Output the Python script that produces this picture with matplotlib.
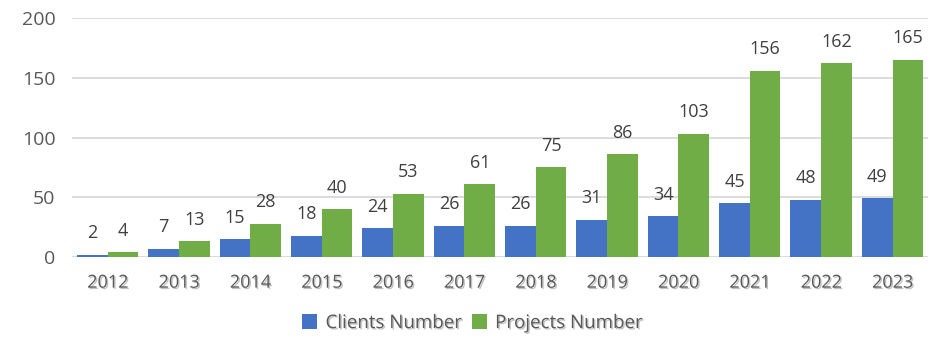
import matplotlib
matplotlib.use("Agg")
import matplotlib.pyplot as plt
import matplotlib.patheffects as pe
import numpy as np

plt.rcParams['font.family'] = ['Open Sans', 'DejaVu Sans']

years = ["2012", "2013", "2014", "2015", "2016", "2017", "2018", "2019", "2020", "2021", "2022", "2023"]
clients = [2, 7, 15, 18, 24, 26, 26, 31, 34, 45, 48, 49]
projects = [4, 13, 28, 40, 53, 61, 75, 86, 103, 156, 162, 165]
series_names = ["Clients Number", "Projects Number"]
colors = ["#4472C4", "#70AD47"]

fig = plt.figure(figsize=(9.45, 3.55), dpi=100)
ax = fig.add_axes([0.0762, 0.276, 0.906, 0.673])

x = np.arange(len(years))
w = 0.43
b1 = ax.bar(x - w/2, clients, w, color=colors[0], label=series_names[0], zorder=3)
b2 = ax.bar(x + w/2, projects, w, color=colors[1], label=series_names[1], zorder=3)

for bars, vals in ((b1, clients), (b2, projects)):
    for r, v in zip(bars, vals):
        ax.annotate(str(v), (r.get_x() + r.get_width()/2, v), xytext=(0, 9),
                    textcoords="offset points", ha="center", va="bottom",
                    fontsize=13, color="#404040")

ax.set_xlim(-0.5, len(years) - 0.5)
ax.set_ylim(0, 200)
ax.set_yticks([0, 50, 100, 150, 200])
ax.set_xticks(x)
ax.set_xticklabels(years)
ax.yaxis.grid(True, color="#D9D9D9", linewidth=1.3, zorder=0)
ax.set_axisbelow(True)
for s in ax.spines.values():
    s.set_visible(False)
ax.tick_params(length=0)
ax.tick_params(axis="y", labelsize=14, labelcolor="#595959", pad=12)
ax.tick_params(axis="x", labelsize=13, labelcolor="#595959", pad=12)
shadow = [pe.withSimplePatchShadow(offset=(1, -1), shadow_rgbFace="#999999", alpha=0.6)]
for t in ax.get_xticklabels():
    t.set_path_effects(shadow)

leg = fig.legend(loc="center", bbox_to_anchor=(0.5, 0.09), ncol=2, frameon=False,
                 fontsize=13.5, handlelength=0.8, handleheight=0.8, handletextpad=0.45,
                 columnspacing=0.5)
for t in leg.get_texts():
    t.set_color("#595959")
    t.set_path_effects(shadow)

fig.savefig("out.png", dpi=100)
